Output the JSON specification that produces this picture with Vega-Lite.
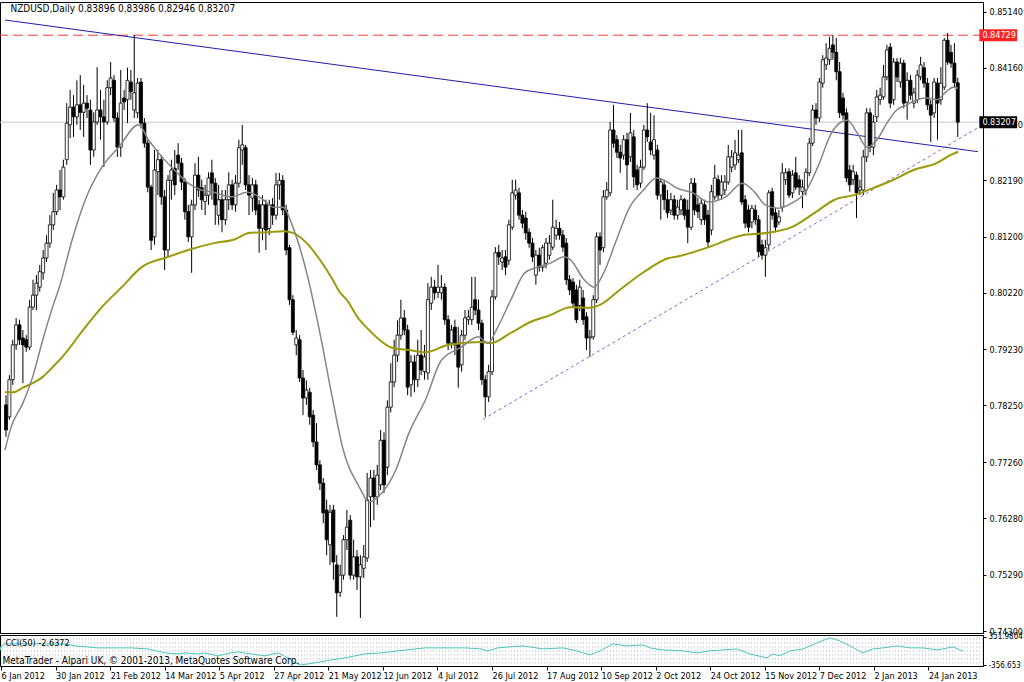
{
"$schema": "https://vega.github.io/schema/vega-lite/v6.json",
"background": "#ffffff",
"padding": {"left": -3, "top": 1, "right": 0, "bottom": 0},
"spacing": 2,
"bounds": "flush",
"config": {
 "view": {"stroke": "#000000", "strokeWidth": 1},
 "axis": {"grid": false, "labelFont": "Liberation Sans Narrow, DejaVu Sans Condensed, Liberation Sans, sans-serif", "labelFontSize": 9, "labelColor": "#000000", "domainColor": "#000000", "tickColor": "#000000"},
 "text": {"font": "Liberation Sans Narrow, DejaVu Sans Condensed, Liberation Sans, sans-serif"}
},
"datasets": {
"ohlc": [
{"i":0,"o":0.7826,"h":0.7843,"l":0.7770,"c":0.7782},
{"i":1,"o":0.7805,"h":0.7878,"l":0.7800,"c":0.7870},
{"i":2,"o":0.7870,"h":0.7940,"l":0.7861,"c":0.7931},
{"i":3,"o":0.7931,"h":0.7978,"l":0.7922,"c":0.7966},
{"i":4,"o":0.7966,"h":0.7975,"l":0.7931,"c":0.7940},
{"i":5,"o":0.7943,"h":0.7957,"l":0.7864,"c":0.7931},
{"i":6,"o":0.7940,"h":0.7948,"l":0.7919,"c":0.7927},
{"i":7,"o":0.7927,"h":0.8010,"l":0.7922,"c":0.7997},
{"i":8,"o":0.7997,"h":0.8045,"l":0.7992,"c":0.8018},
{"i":9,"o":0.8018,"h":0.8053,"l":0.7992,"c":0.8039},
{"i":10,"o":0.8032,"h":0.8071,"l":0.8024,"c":0.8059},
{"i":11,"o":0.8057,"h":0.8097,"l":0.8045,"c":0.8083},
{"i":12,"o":0.8083,"h":0.8123,"l":0.8076,"c":0.8109},
{"i":13,"o":0.8109,"h":0.8158,"l":0.8101,"c":0.8141},
{"i":14,"o":0.8141,"h":0.8197,"l":0.8132,"c":0.8164},
{"i":15,"o":0.8164,"h":0.8211,"l":0.8158,"c":0.8202},
{"i":16,"o":0.8202,"h":0.8237,"l":0.8167,"c":0.8190},
{"i":17,"o":0.8190,"h":0.8255,"l":0.8185,"c":0.8242},
{"i":18,"o":0.8255,"h":0.8354,"l":0.8246,"c":0.8319},
{"i":19,"o":0.8316,"h":0.8377,"l":0.8293,"c":0.8347},
{"i":20,"o":0.8347,"h":0.8368,"l":0.8295,"c":0.8330},
{"i":21,"o":0.8330,"h":0.8394,"l":0.8316,"c":0.8351},
{"i":22,"o":0.8351,"h":0.8403,"l":0.8307,"c":0.8338},
{"i":23,"o":0.8338,"h":0.8386,"l":0.8295,"c":0.8354},
{"i":24,"o":0.8354,"h":0.8368,"l":0.8328,"c":0.8345},
{"i":25,"o":0.8342,"h":0.8360,"l":0.8246,"c":0.8272},
{"i":26,"o":0.8272,"h":0.8338,"l":0.8260,"c":0.8321},
{"i":27,"o":0.8321,"h":0.8417,"l":0.8316,"c":0.8342},
{"i":28,"o":0.8342,"h":0.8377,"l":0.8290,"c":0.8330},
{"i":29,"o":0.8330,"h":0.8360,"l":0.8242,"c":0.8321},
{"i":30,"o":0.8321,"h":0.8394,"l":0.8316,"c":0.8381},
{"i":31,"o":0.8381,"h":0.8426,"l":0.8368,"c":0.8398},
{"i":32,"o":0.8394,"h":0.8403,"l":0.8321,"c":0.8328},
{"i":33,"o":0.8328,"h":0.8338,"l":0.8260,"c":0.8277},
{"i":34,"o":0.8277,"h":0.8412,"l":0.8260,"c":0.8354},
{"i":35,"o":0.8363,"h":0.8377,"l":0.8342,"c":0.8356},
{"i":36,"o":0.8360,"h":0.8416,"l":0.8319,"c":0.8394},
{"i":37,"o":0.8391,"h":0.8412,"l":0.8360,"c":0.8374},
{"i":38,"o":0.8342,"h":0.8473,"l":0.8328,"c":0.8372},
{"i":39,"o":0.8337,"h":0.8398,"l":0.8328,"c":0.8389},
{"i":40,"o":0.8391,"h":0.8398,"l":0.8310,"c":0.8319},
{"i":41,"o":0.8319,"h":0.8328,"l":0.8276,"c":0.8284},
{"i":42,"o":0.8284,"h":0.8290,"l":0.8198,"c":0.8207},
{"i":43,"o":0.8207,"h":0.8211,"l":0.8097,"c":0.8114},
{"i":44,"o":0.8120,"h":0.8272,"l":0.8106,"c":0.8237},
{"i":45,"o":0.8234,"h":0.8272,"l":0.8193,"c":0.8255},
{"i":46,"o":0.8255,"h":0.8263,"l":0.8176,"c":0.8190},
{"i":47,"o":0.8190,"h":0.8202,"l":0.8062,"c":0.8097},
{"i":48,"o":0.8097,"h":0.8228,"l":0.8083,"c":0.8219},
{"i":49,"o":0.8219,"h":0.8255,"l":0.8185,"c":0.8237},
{"i":50,"o":0.8240,"h":0.8272,"l":0.8193,"c":0.8211},
{"i":51,"o":0.8263,"h":0.8284,"l":0.8237,"c":0.8249},
{"i":52,"o":0.8249,"h":0.8258,"l":0.8202,"c":0.8216},
{"i":53,"o":0.8216,"h":0.8223,"l":0.8150,"c":0.8164},
{"i":54,"o":0.8164,"h":0.8176,"l":0.8111,"c":0.8120},
{"i":55,"o":0.8120,"h":0.8185,"l":0.8057,"c":0.8176},
{"i":56,"o":0.8176,"h":0.8249,"l":0.8167,"c":0.8228},
{"i":57,"o":0.8228,"h":0.8260,"l":0.8190,"c":0.8202},
{"i":58,"o":0.8206,"h":0.8220,"l":0.8167,"c":0.8185},
{"i":59,"o":0.8182,"h":0.8211,"l":0.8158,"c":0.8193},
{"i":60,"o":0.8193,"h":0.8233,"l":0.8176,"c":0.8223},
{"i":61,"o":0.8232,"h":0.8255,"l":0.8185,"c":0.8214},
{"i":62,"o":0.8214,"h":0.8223,"l":0.8141,"c":0.8176},
{"i":63,"o":0.8158,"h":0.8211,"l":0.8141,"c":0.8185},
{"i":64,"o":0.8185,"h":0.8202,"l":0.8128,"c":0.8150},
{"i":65,"o":0.8150,"h":0.8202,"l":0.8141,"c":0.8185},
{"i":66,"o":0.8185,"h":0.8233,"l":0.8167,"c":0.8211},
{"i":67,"o":0.8211,"h":0.8220,"l":0.8167,"c":0.8176},
{"i":68,"o":0.8176,"h":0.8228,"l":0.8164,"c":0.8214},
{"i":69,"o":0.8214,"h":0.8290,"l":0.8206,"c":0.8276},
{"i":70,"o":0.8272,"h":0.8316,"l":0.8246,"c":0.8281},
{"i":71,"o":0.8276,"h":0.8281,"l":0.8202,"c":0.8211},
{"i":72,"o":0.8211,"h":0.8228,"l":0.8158,"c":0.8193},
{"i":73,"o":0.8188,"h":0.8223,"l":0.8164,"c":0.8211},
{"i":74,"o":0.8211,"h":0.8220,"l":0.8158,"c":0.8167},
{"i":75,"o":0.8176,"h":0.8185,"l":0.8092,"c":0.8135},
{"i":76,"o":0.8135,"h":0.8193,"l":0.8114,"c":0.8176},
{"i":77,"o":0.8176,"h":0.8185,"l":0.8097,"c":0.8132},
{"i":78,"o":0.8135,"h":0.8185,"l":0.8123,"c":0.8176},
{"i":79,"o":0.8176,"h":0.8188,"l":0.8141,"c":0.8158},
{"i":80,"o":0.8158,"h":0.8232,"l":0.8150,"c":0.8211},
{"i":81,"o":0.8211,"h":0.8232,"l":0.8185,"c":0.8219},
{"i":82,"o":0.8219,"h":0.8228,"l":0.8158,"c":0.8167},
{"i":83,"o":0.8167,"h":0.8176,"l":0.8088,"c":0.8097},
{"i":84,"o":0.8101,"h":0.8106,"l":0.8001,"c":0.8010},
{"i":85,"o":0.8010,"h":0.8018,"l":0.7948,"c":0.7953},
{"i":86,"o":0.7931,"h":0.7957,"l":0.7913,"c":0.7943},
{"i":87,"o":0.7940,"h":0.7948,"l":0.7866,"c":0.7873},
{"i":88,"o":0.7873,"h":0.7887,"l":0.7808,"c":0.7838},
{"i":89,"o":0.7838,"h":0.7869,"l":0.7826,"c":0.7852},
{"i":90,"o":0.7848,"h":0.7856,"l":0.7791,"c":0.7805},
{"i":91,"o":0.7808,"h":0.7817,"l":0.7752,"c":0.7761},
{"i":92,"o":0.7761,"h":0.7794,"l":0.7712,"c":0.7721},
{"i":93,"o":0.7721,"h":0.7729,"l":0.7677,"c":0.7689},
{"i":94,"o":0.7689,"h":0.7698,"l":0.7619,"c":0.7637},
{"i":95,"o":0.7642,"h":0.7660,"l":0.7563,"c":0.7590},
{"i":96,"o":0.7581,"h":0.7651,"l":0.7546,"c":0.7638},
{"i":97,"o":0.7642,"h":0.7651,"l":0.7520,"c":0.7551},
{"i":98,"o":0.7546,"h":0.7563,"l":0.7455,"c":0.7497},
{"i":99,"o":0.7498,"h":0.7546,"l":0.7490,"c":0.7528},
{"i":100,"o":0.7528,"h":0.7598,"l":0.7520,"c":0.7590},
{"i":101,"o":0.7590,"h":0.7642,"l":0.7572,"c":0.7612},
{"i":102,"o":0.7624,"h":0.7633,"l":0.7520,"c":0.7528},
{"i":103,"o":0.7528,"h":0.7590,"l":0.7520,"c":0.7560},
{"i":104,"o":0.7560,"h":0.7572,"l":0.7502,"c":0.7525},
{"i":105,"o":0.7525,"h":0.7563,"l":0.7453,"c":0.7546},
{"i":106,"o":0.7540,"h":0.7581,"l":0.7523,"c":0.7560},
{"i":107,"o":0.7558,"h":0.7707,"l":0.7551,"c":0.7660},
{"i":108,"o":0.7665,"h":0.7712,"l":0.7612,"c":0.7698},
{"i":109,"o":0.7698,"h":0.7712,"l":0.7624,"c":0.7665},
{"i":110,"o":0.7665,"h":0.7721,"l":0.7651,"c":0.7703},
{"i":111,"o":0.7686,"h":0.7782,"l":0.7677,"c":0.7764},
{"i":112,"o":0.7764,"h":0.7778,"l":0.7672,"c":0.7686},
{"i":113,"o":0.7717,"h":0.7834,"l":0.7703,"c":0.7822},
{"i":114,"o":0.7822,"h":0.7899,"l":0.7813,"c":0.7866},
{"i":115,"o":0.7866,"h":0.7940,"l":0.7857,"c":0.7913},
{"i":116,"o":0.7913,"h":0.7974,"l":0.7901,"c":0.7948},
{"i":117,"o":0.7948,"h":0.8010,"l":0.7940,"c":0.7978},
{"i":118,"o":0.7978,"h":0.7992,"l":0.7948,"c":0.7957},
{"i":119,"o":0.7957,"h":0.7966,"l":0.7843,"c":0.7857},
{"i":120,"o":0.7861,"h":0.7913,"l":0.7840,"c":0.7901},
{"i":121,"o":0.7901,"h":0.7913,"l":0.7848,"c":0.7870},
{"i":122,"o":0.7870,"h":0.7940,"l":0.7857,"c":0.7913},
{"i":123,"o":0.7913,"h":0.7957,"l":0.7878,"c":0.7887},
{"i":124,"o":0.7884,"h":0.7931,"l":0.7870,"c":0.7910},
{"i":125,"o":0.7882,"h":0.8039,"l":0.7870,"c":0.8010},
{"i":126,"o":0.8004,"h":0.8050,"l":0.7992,"c":0.8032},
{"i":127,"o":0.8032,"h":0.8045,"l":0.8010,"c":0.8022},
{"i":128,"o":0.8023,"h":0.8071,"l":0.8013,"c":0.8032},
{"i":129,"o":0.8022,"h":0.8053,"l":0.8010,"c":0.8032},
{"i":130,"o":0.8032,"h":0.8039,"l":0.7966,"c":0.7975},
{"i":131,"o":0.7975,"h":0.7983,"l":0.7922,"c":0.7934},
{"i":132,"o":0.7934,"h":0.7966,"l":0.7925,"c":0.7957},
{"i":133,"o":0.7962,"h":0.7975,"l":0.7913,"c":0.7931},
{"i":134,"o":0.7931,"h":0.7962,"l":0.7856,"c":0.7892},
{"i":135,"o":0.7896,"h":0.7957,"l":0.7884,"c":0.7948},
{"i":136,"o":0.7948,"h":0.7992,"l":0.7940,"c":0.7978},
{"i":137,"o":0.7975,"h":0.7992,"l":0.7966,"c":0.7980},
{"i":138,"o":0.7975,"h":0.8050,"l":0.7966,"c":0.7997},
{"i":139,"o":0.8010,"h":0.8050,"l":0.7983,"c":0.7992},
{"i":140,"o":0.7992,"h":0.8010,"l":0.7957,"c":0.7969},
{"i":141,"o":0.7969,"h":0.7975,"l":0.7861,"c":0.7870},
{"i":142,"o":0.7870,"h":0.7878,"l":0.7805,"c":0.7840},
{"i":143,"o":0.7840,"h":0.7896,"l":0.7831,"c":0.7884},
{"i":144,"o":0.7884,"h":0.8027,"l":0.7878,"c":0.8015},
{"i":145,"o":0.8015,"h":0.8102,"l":0.8010,"c":0.8092},
{"i":146,"o":0.8093,"h":0.8106,"l":0.8071,"c":0.8085},
{"i":147,"o":0.8076,"h":0.8097,"l":0.8062,"c":0.8083},
{"i":148,"o":0.8085,"h":0.8097,"l":0.8053,"c":0.8067},
{"i":149,"o":0.8079,"h":0.8150,"l":0.8071,"c":0.8141},
{"i":150,"o":0.8137,"h":0.8220,"l":0.8132,"c":0.8197},
{"i":151,"o":0.8193,"h":0.8220,"l":0.8185,"c":0.8202},
{"i":152,"o":0.8197,"h":0.8206,"l":0.8150,"c":0.8158},
{"i":153,"o":0.8158,"h":0.8167,"l":0.8135,"c":0.8144},
{"i":154,"o":0.8153,"h":0.8164,"l":0.8115,"c":0.8127},
{"i":155,"o":0.8128,"h":0.8135,"l":0.8101,"c":0.8109},
{"i":156,"o":0.8109,"h":0.8118,"l":0.8076,"c":0.8085},
{"i":157,"o":0.8053,"h":0.8097,"l":0.8036,"c":0.8088},
{"i":158,"o":0.8088,"h":0.8101,"l":0.8059,"c":0.8067},
{"i":159,"o":0.8067,"h":0.8106,"l":0.8059,"c":0.8101},
{"i":160,"o":0.8074,"h":0.8118,"l":0.8065,"c":0.8109},
{"i":161,"o":0.8088,"h":0.8123,"l":0.8080,"c":0.8109},
{"i":162,"o":0.8102,"h":0.8185,"l":0.8097,"c":0.8137},
{"i":163,"o":0.8123,"h":0.8150,"l":0.8115,"c":0.8135},
{"i":164,"o":0.8135,"h":0.8146,"l":0.8115,"c":0.8123},
{"i":165,"o":0.8123,"h":0.8132,"l":0.8094,"c":0.8102},
{"i":166,"o":0.8109,"h":0.8118,"l":0.8036,"c":0.8045},
{"i":167,"o":0.8045,"h":0.8053,"l":0.8018,"c":0.8027},
{"i":168,"o":0.8041,"h":0.8048,"l":0.7996,"c":0.8004},
{"i":169,"o":0.8027,"h":0.8036,"l":0.7969,"c":0.7975},
{"i":170,"o":0.8000,"h":0.8045,"l":0.7990,"c":0.8032},
{"i":171,"o":0.8013,"h":0.8027,"l":0.7966,"c":0.7975},
{"i":172,"o":0.7980,"h":0.7988,"l":0.7922,"c":0.7943},
{"i":173,"o":0.7943,"h":0.7957,"l":0.7910,"c":0.7945},
{"i":174,"o":0.7945,"h":0.8018,"l":0.7940,"c":0.8010},
{"i":175,"o":0.8010,"h":0.8128,"l":0.8004,"c":0.8120},
{"i":176,"o":0.8120,"h":0.8128,"l":0.8071,"c":0.8097},
{"i":177,"o":0.8101,"h":0.8202,"l":0.8093,"c":0.8190},
{"i":178,"o":0.8190,"h":0.8216,"l":0.8185,"c":0.8202},
{"i":179,"o":0.8197,"h":0.8321,"l":0.8191,"c":0.8307},
{"i":180,"o":0.8307,"h":0.8351,"l":0.8276,"c":0.8284},
{"i":181,"o":0.8290,"h":0.8298,"l":0.8258,"c":0.8268},
{"i":182,"o":0.8268,"h":0.8281,"l":0.8232,"c":0.8258},
{"i":183,"o":0.8263,"h":0.8298,"l":0.8255,"c":0.8290},
{"i":184,"o":0.8290,"h":0.8302,"l":0.8202,"c":0.8246},
{"i":185,"o":0.8260,"h":0.8337,"l":0.8251,"c":0.8302},
{"i":186,"o":0.8295,"h":0.8307,"l":0.8206,"c":0.8225},
{"i":187,"o":0.8237,"h":0.8246,"l":0.8202,"c":0.8211},
{"i":188,"o":0.8214,"h":0.8255,"l":0.8206,"c":0.8242},
{"i":189,"o":0.8242,"h":0.8316,"l":0.8237,"c":0.8307},
{"i":190,"o":0.8307,"h":0.8354,"l":0.8286,"c":0.8295},
{"i":191,"o":0.8286,"h":0.8337,"l":0.8263,"c":0.8272},
{"i":192,"o":0.8263,"h":0.8333,"l":0.8255,"c":0.8290},
{"i":193,"o":0.8272,"h":0.8281,"l":0.8185,"c":0.8193},
{"i":194,"o":0.8193,"h":0.8223,"l":0.8150,"c":0.8216},
{"i":195,"o":0.8211,"h":0.8220,"l":0.8167,"c":0.8185},
{"i":196,"o":0.8185,"h":0.8202,"l":0.8153,"c":0.8162},
{"i":197,"o":0.8167,"h":0.8197,"l":0.8158,"c":0.8185},
{"i":198,"o":0.8185,"h":0.8193,"l":0.8150,"c":0.8158},
{"i":199,"o":0.8158,"h":0.8185,"l":0.8150,"c":0.8172},
{"i":200,"o":0.8167,"h":0.8193,"l":0.8158,"c":0.8185},
{"i":201,"o":0.8185,"h":0.8188,"l":0.8150,"c":0.8158},
{"i":202,"o":0.8167,"h":0.8185,"l":0.8109,"c":0.8137},
{"i":203,"o":0.8137,"h":0.8223,"l":0.8132,"c":0.8214},
{"i":204,"o":0.8214,"h":0.8223,"l":0.8158,"c":0.8167},
{"i":205,"o":0.8176,"h":0.8188,"l":0.8153,"c":0.8164},
{"i":206,"o":0.8150,"h":0.8188,"l":0.8141,"c":0.8179},
{"i":207,"o":0.8176,"h":0.8185,"l":0.8141,"c":0.8150},
{"i":208,"o":0.8158,"h":0.8167,"l":0.8101,"c":0.8111},
{"i":209,"o":0.8132,"h":0.8211,"l":0.8123,"c":0.8199},
{"i":210,"o":0.8190,"h":0.8246,"l":0.8185,"c":0.8223},
{"i":211,"o":0.8220,"h":0.8228,"l":0.8185,"c":0.8193},
{"i":212,"o":0.8193,"h":0.8228,"l":0.8185,"c":0.8216},
{"i":213,"o":0.8202,"h":0.8228,"l":0.8193,"c":0.8216},
{"i":214,"o":0.8216,"h":0.8281,"l":0.8211,"c":0.8260},
{"i":215,"o":0.8242,"h":0.8272,"l":0.8233,"c":0.8260},
{"i":216,"o":0.8246,"h":0.8290,"l":0.8237,"c":0.8267},
{"i":217,"o":0.8255,"h":0.8307,"l":0.8249,"c":0.8263},
{"i":218,"o":0.8267,"h":0.8307,"l":0.8176,"c":0.8181},
{"i":219,"o":0.8185,"h":0.8193,"l":0.8135,"c":0.8144},
{"i":220,"o":0.8167,"h":0.8176,"l":0.8128,"c":0.8137},
{"i":221,"o":0.8146,"h":0.8176,"l":0.8135,"c":0.8170},
{"i":222,"o":0.8167,"h":0.8176,"l":0.8141,"c":0.8150},
{"i":223,"o":0.8150,"h":0.8158,"l":0.8085,"c":0.8094},
{"i":224,"o":0.8106,"h":0.8115,"l":0.8080,"c":0.8088},
{"i":225,"o":0.8088,"h":0.8115,"l":0.8050,"c":0.8101},
{"i":226,"o":0.8106,"h":0.8202,"l":0.8097,"c":0.8197},
{"i":227,"o":0.8199,"h":0.8206,"l":0.8150,"c":0.8158},
{"i":228,"o":0.8162,"h":0.8171,"l":0.8128,"c":0.8137},
{"i":229,"o":0.8146,"h":0.8167,"l":0.8141,"c":0.8155},
{"i":230,"o":0.8172,"h":0.8249,"l":0.8164,"c":0.8232},
{"i":231,"o":0.8220,"h":0.8240,"l":0.8211,"c":0.8232},
{"i":232,"o":0.8234,"h":0.8240,"l":0.8188,"c":0.8193},
{"i":233,"o":0.8197,"h":0.8237,"l":0.8188,"c":0.8228},
{"i":234,"o":0.8232,"h":0.8260,"l":0.8202,"c":0.8207},
{"i":235,"o":0.8220,"h":0.8228,"l":0.8193,"c":0.8207},
{"i":236,"o":0.8199,"h":0.8220,"l":0.8170,"c":0.8207},
{"i":237,"o":0.8202,"h":0.8240,"l":0.8193,"c":0.8233},
{"i":238,"o":0.8232,"h":0.8293,"l":0.8226,"c":0.8284},
{"i":239,"o":0.8284,"h":0.8351,"l":0.8279,"c":0.8342},
{"i":240,"o":0.8342,"h":0.8354,"l":0.8316,"c":0.8328},
{"i":241,"o":0.8328,"h":0.8398,"l":0.8321,"c":0.8391},
{"i":242,"o":0.8389,"h":0.8438,"l":0.8381,"c":0.8430},
{"i":243,"o":0.8421,"h":0.8459,"l":0.8412,"c":0.8433},
{"i":244,"o":0.8430,"h":0.8470,"l":0.8421,"c":0.8450},
{"i":245,"o":0.8456,"h":0.8473,"l":0.8430,"c":0.8443},
{"i":246,"o":0.8443,"h":0.8468,"l":0.8394,"c":0.8409},
{"i":247,"o":0.8409,"h":0.8426,"l":0.8328,"c":0.8337},
{"i":248,"o":0.8363,"h":0.8372,"l":0.8325,"c":0.8333},
{"i":249,"o":0.8337,"h":0.8345,"l":0.8216,"c":0.8223},
{"i":250,"o":0.8237,"h":0.8246,"l":0.8199,"c":0.8211},
{"i":251,"o":0.8220,"h":0.8246,"l":0.8211,"c":0.8234},
{"i":252,"o":0.8228,"h":0.8234,"l":0.8153,"c":0.8197},
{"i":253,"o":0.8202,"h":0.8220,"l":0.8193,"c":0.8207},
{"i":254,"o":0.8202,"h":0.8272,"l":0.8193,"c":0.8260},
{"i":255,"o":0.8260,"h":0.8345,"l":0.8251,"c":0.8337},
{"i":256,"o":0.8337,"h":0.8345,"l":0.8268,"c":0.8277},
{"i":257,"o":0.8277,"h":0.8333,"l":0.8263,"c":0.8321},
{"i":258,"o":0.8330,"h":0.8377,"l":0.8321,"c":0.8365},
{"i":259,"o":0.8360,"h":0.8381,"l":0.8351,"c":0.8368},
{"i":260,"o":0.8365,"h":0.8421,"l":0.8360,"c":0.8400},
{"i":261,"o":0.8400,"h":0.8456,"l":0.8394,"c":0.8447},
{"i":262,"o":0.8452,"h":0.8459,"l":0.8345,"c":0.8354},
{"i":263,"o":0.8360,"h":0.8433,"l":0.8351,"c":0.8426},
{"i":264,"o":0.8426,"h":0.8433,"l":0.8391,"c":0.8400},
{"i":265,"o":0.8391,"h":0.8433,"l":0.8381,"c":0.8424},
{"i":266,"o":0.8424,"h":0.8430,"l":0.8345,"c":0.8354},
{"i":267,"o":0.8356,"h":0.8408,"l":0.8325,"c":0.8394},
{"i":268,"o":0.8394,"h":0.8403,"l":0.8360,"c":0.8368},
{"i":269,"o":0.8354,"h":0.8381,"l":0.8345,"c":0.8372},
{"i":270,"o":0.8360,"h":0.8412,"l":0.8354,"c":0.8403},
{"i":271,"o":0.8400,"h":0.8435,"l":0.8394,"c":0.8421},
{"i":272,"o":0.8416,"h":0.8426,"l":0.8381,"c":0.8389},
{"i":273,"o":0.8389,"h":0.8398,"l":0.8342,"c":0.8351},
{"i":274,"o":0.8351,"h":0.8360,"l":0.8286,"c":0.8333},
{"i":275,"o":0.8337,"h":0.8398,"l":0.8328,"c":0.8391},
{"i":276,"o":0.8389,"h":0.8398,"l":0.8290,"c":0.8354},
{"i":277,"o":0.8360,"h":0.8417,"l":0.8351,"c":0.8389},
{"i":278,"o":0.8382,"h":0.8468,"l":0.8377,"c":0.8464},
{"i":279,"o":0.8464,"h":0.8477,"l":0.8421,"c":0.8426},
{"i":280,"o":0.8443,"h":0.8456,"l":0.8416,"c":0.8424},
{"i":281,"o":0.8424,"h":0.8459,"l":0.8381,"c":0.8390},
{"i":282,"o":0.83896,"h":0.83986,"l":0.82946,"c":0.83207}
],
"maFast": [
{"i":-0.3,"p":0.7747},{"i":1.5,"p":0.7787},{"i":5,"p":0.7829},{"i":7.9,"p":0.7875},{"i":10.9,"p":0.7940},{"i":13.8,"p":0.7997},{"i":15.8,"p":0.8032},{"i":19.6,"p":0.8115},{"i":23.5,"p":0.8185},{"i":28.4,"p":0.8242},{"i":33.4,"p":0.8277},{"i":39.3,"p":0.8316},{"i":42.2,"p":0.8290},{"i":45.2,"p":0.8267},{"i":49.9,"p":0.8237},{"i":54,"p":0.8214},{"i":57.8,"p":0.8202},{"i":61.6,"p":0.8198},{"i":66.6,"p":0.8190},{"i":71.6,"p":0.8198},{"i":76.2,"p":0.8185},{"i":79.2,"p":0.8172},{"i":82.1,"p":0.8172},{"i":85,"p":0.8137},{"i":89.1,"p":0.8057},{"i":93,"p":0.7952},{"i":96.8,"p":0.7835},{"i":99.7,"p":0.7752},{"i":104.7,"p":0.7682},{"i":107.6,"p":0.7656},{"i":111.4,"p":0.7672},{"i":115.5,"p":0.7712},{"i":119.4,"p":0.7777},{"i":124.3,"p":0.7835},{"i":129,"p":0.7904},{"i":134.9,"p":0.7927},{"i":139.9,"p":0.7945},{"i":142.8,"p":0.7934},{"i":145.7,"p":0.7962},{"i":149.6,"p":0.8010},{"i":153.7,"p":0.8057},{"i":157.5,"p":0.8067},{"i":161.3,"p":0.8074},{"i":165.4,"p":0.8085},{"i":167.2,"p":0.8080},{"i":171.3,"p":0.8045},{"i":174.2,"p":0.8032},{"i":177.1,"p":0.8057},{"i":180.9,"p":0.8115},{"i":184.8,"p":0.8172},{"i":188.9,"p":0.8202},{"i":192.7,"p":0.8223},{"i":196.5,"p":0.8214},{"i":198.5,"p":0.8206},{"i":203.5,"p":0.8197},{"i":208.2,"p":0.8181},{"i":213.2,"p":0.8190},{"i":218.2,"p":0.8214},{"i":222,"p":0.8197},{"i":224.9,"p":0.8176},{"i":228.7,"p":0.8170},{"i":232.8,"p":0.8179},{"i":236.7,"p":0.8197},{"i":240.5,"p":0.8242},{"i":244.6,"p":0.8302},{"i":247.5,"p":0.8321},{"i":249.3,"p":0.8324},{"i":252.2,"p":0.8302},{"i":255.1,"p":0.8277},{"i":258.1,"p":0.8290},{"i":261,"p":0.8319},{"i":263.9,"p":0.8342},{"i":266.9,"p":0.8351},{"i":269.8,"p":0.8360},{"i":272.7,"p":0.8363},{"i":275.7,"p":0.8360},{"i":278.6,"p":0.8374},{"i":280.6,"p":0.8382},{"i":282.1,"p":0.8380}
],
"maSlow": [
{"i":-0.3,"p":0.7848},{"i":2.1,"p":0.7848},{"i":5,"p":0.7856},{"i":7.9,"p":0.7864},{"i":10.9,"p":0.7875},{"i":13.8,"p":0.7892},{"i":16.7,"p":0.7910},{"i":23.5,"p":0.7962},{"i":28.4,"p":0.7997},{"i":34.3,"p":0.8032},{"i":40.2,"p":0.8067},{"i":48.1,"p":0.8085},{"i":54,"p":0.8097},{"i":61.6,"p":0.8109},{"i":67.4,"p":0.8115},{"i":72.4,"p":0.8127},{"i":77.4,"p":0.8128},{"i":82.1,"p":0.8130},{"i":85,"p":0.8127},{"i":89.1,"p":0.8109},{"i":93,"p":0.8080},{"i":96.8,"p":0.8045},{"i":98.8,"p":0.8024},{"i":100.9,"p":0.8010},{"i":104.7,"p":0.7975},{"i":107.6,"p":0.7957},{"i":110.6,"p":0.7940},{"i":114.4,"p":0.7926},{"i":119.4,"p":0.7922},{"i":124.3,"p":0.7918},{"i":131.1,"p":0.7931},{"i":140.8,"p":0.7936},{"i":143.7,"p":0.7934},{"i":149.6,"p":0.7952},{"i":155.4,"p":0.7971},{"i":161.3,"p":0.7983},{"i":167.2,"p":0.7997},{"i":173,"p":0.7996},{"i":176,"p":0.8001},{"i":181.8,"p":0.8027},{"i":188.9,"p":0.8058},{"i":196.5,"p":0.8083},{"i":198.5,"p":0.8085},{"i":208.2,"p":0.8102},{"i":218.2,"p":0.8123},{"i":225.8,"p":0.8127},{"i":232.8,"p":0.8137},{"i":239.6,"p":0.8162},{"i":245.5,"p":0.8185},{"i":251.3,"p":0.8193},{"i":257.2,"p":0.8206},{"i":263,"p":0.8220},{"i":268.9,"p":0.8237},{"i":275.7,"p":0.8249},{"i":279.8,"p":0.8263},{"i":282.1,"p":0.8269}
],
"cci": [
{"i":-0.3,"v":0},{"i":0,"v":126},{"i":1.2,"v":176},{"i":5,"v":176},{"i":18.8,"v":176},{"i":21.7,"v":126},{"i":28.4,"v":76},{"i":38.1,"v":76},{"i":43.1,"v":50},{"i":48.1,"v":-50},{"i":51.9,"v":-76},{"i":54,"v":-50},{"i":57.8,"v":-76},{"i":59.8,"v":-50},{"i":63.6,"v":-126},{"i":67.4,"v":-50},{"i":69.5,"v":-25},{"i":73.3,"v":-76},{"i":77.4,"v":-126},{"i":81.2,"v":-50},{"i":84.2,"v":-176},{"i":86.2,"v":-302},{"i":88,"v":-353},{"i":92.1,"v":-302},{"i":96.8,"v":-227},{"i":100.9,"v":-176},{"i":106.7,"v":-76},{"i":111.4,"v":-50},{"i":116.4,"v":0},{"i":124.3,"v":76},{"i":128.2,"v":76},{"i":136.1,"v":76},{"i":140.8,"v":50},{"i":142.8,"v":0},{"i":145.7,"v":76},{"i":149.3,"v":101},{"i":153.1,"v":126},{"i":158.9,"v":50},{"i":164.8,"v":76},{"i":168.9,"v":0},{"i":172.7,"v":-101},{"i":175.7,"v":0},{"i":179.5,"v":176},{"i":183.6,"v":126},{"i":188.3,"v":151},{"i":190.3,"v":76},{"i":194.1,"v":25},{"i":200,"v":0},{"i":204.1,"v":-50},{"i":207.9,"v":0},{"i":215.8,"v":50},{"i":219.6,"v":-76},{"i":224.6,"v":-176},{"i":226.4,"v":-76},{"i":228.4,"v":-126},{"i":231.4,"v":0},{"i":235.2,"v":50},{"i":239.3,"v":202},{"i":243.1,"v":328},{"i":246,"v":252},{"i":249,"v":126},{"i":252.8,"v":-50},{"i":255.7,"v":50},{"i":258.7,"v":76},{"i":262.8,"v":126},{"i":266.6,"v":76},{"i":270.4,"v":76},{"i":274.5,"v":25},{"i":276.2,"v":50},{"i":279.2,"v":101},{"i":281.2,"v":25},{"i":282.1,"v":-3}
]
},
"vconcat": [
{
 "width": 983, "height": 631,
 "layer": [
  {
   "data": {"values": [{"p": 0.83207}]},
   "mark": {"type": "rule", "color": "#c4c4c4", "strokeWidth": 1},
   "encoding": {
    "y": {"field": "p", "type": "quantitative", "title": null,
     "scale": {"domain": [0.742675, 0.8531], "nice": false, "zero": false},
     "axis": {"orient": "right", "values": [0.7430,0.7480,0.7529,0.7578,0.7628,0.7677,0.7726,0.7775,0.7825,0.7874,0.7923,0.7972,0.8022,0.8071,0.8120,0.8169,0.8219,0.8268,0.8317,0.8366,0.8416,0.8465,0.8514], "format": ".5f", "tickSize": 3, "labelPadding": 3, "labelFlush": false, "labelOverlap": false, "labelBound": false, "title": null}}
   }
  },
  {
   "data": {"values": [{"p": 0.84729}]},
   "mark": {"type": "rule", "color": "#ff3838", "strokeWidth": 1, "strokeDash": [10, 5]},
   "encoding": {"y": {"field": "p", "type": "quantitative", "title": null}}
  },
  {
   "data": {"values": [{"i": -0.3, "p": 0.84995}, {"i": 288, "p": 0.8269}]},
   "mark": {"type": "line", "color": "#1e1ea6", "strokeWidth": 1},
   "encoding": {
    "x": {"field": "i", "type": "quantitative", "title": null, "scale": {"domain": [-0.3, 288], "nice": false, "zero": false}, "axis": null},
    "y": {"field": "p", "type": "quantitative", "title": null}
   }
  },
  {
   "data": {"values": [{"i": 141.4, "p": 0.7801}, {"i": 288, "p": 0.8311}]},
   "mark": {"type": "line", "color": "#8a5fd6", "strokeWidth": 1, "strokeDash": [3, 3]},
   "encoding": {
    "x": {"field": "i", "type": "quantitative", "title": null, "axis": null},
    "y": {"field": "p", "type": "quantitative", "title": null}
   }
  },
  {
   "data": {"name": "ohlc"},
   "mark": {"type": "rule", "color": "#000000", "strokeWidth": 1},
   "encoding": {
    "x": {"field": "i", "type": "quantitative", "title": null, "axis": null},
    "y": {"field": "l", "type": "quantitative", "title": null},
    "y2": {"field": "h"}
   }
  },
  {
   "data": {"name": "ohlc"},
   "mark": {"type": "bar", "size": 3, "stroke": "#000000", "strokeWidth": 0.8},
   "encoding": {
    "x": {"field": "i", "type": "quantitative", "title": null, "axis": null},
    "y": {"field": "o", "type": "quantitative", "title": null},
    "y2": {"field": "c"},
    "fill": {"condition": {"test": "datum.c < datum.o", "value": "#000000"}, "value": "#ffffff"}
   }
  },
  {
   "data": {"name": "maSlow"},
   "mark": {"type": "line", "color": "#9a9a0a", "strokeWidth": 2, "interpolate": "monotone"},
   "encoding": {
    "x": {"field": "i", "type": "quantitative", "title": null, "axis": null},
    "y": {"field": "p", "type": "quantitative", "title": null}
   }
  },
  {
   "data": {"name": "maFast"},
   "mark": {"type": "line", "color": "#858585", "strokeWidth": 1.5, "interpolate": "monotone"},
   "encoding": {
    "x": {"field": "i", "type": "quantitative", "title": null, "axis": null},
    "y": {"field": "p", "type": "quantitative", "title": null}
   }
  },
  {
   "data": {"values": [{"p": 0.84729, "t": "0.84729"}, {"p": 0.83207, "t": "0.83207"}]},
   "mark": {"type": "rule", "strokeWidth": 12, "strokeCap": "butt"},
   "encoding": {
    "x": {"datum": 288.4, "type": "quantitative", "axis": null},
    "x2": {"datum": 299.6},
    "y": {"field": "p", "type": "quantitative", "title": null},
    "color": {"condition": {"test": "datum.p > 0.84", "value": "#ff2424"}, "value": "#000000"}
   }
  },
  {
   "data": {"values": [{"p": 0.84729, "t": "0.84729"}, {"p": 0.83207, "t": "0.83207"}]},
   "mark": {"type": "text", "align": "left", "baseline": "middle", "color": "#ffffff", "fontSize": 9},
   "encoding": {
    "x": {"datum": 289.3, "type": "quantitative", "axis": null},
    "y": {"field": "p", "type": "quantitative", "title": null},
    "text": {"field": "t"}
   }
  },
  {
   "data": {"values": [{"t": "NZDUSD,Daily  0.83896 0.83986 0.82946 0.83207"}]},
   "mark": {"type": "text", "align": "left", "baseline": "middle", "color": "#000000", "fontSize": 10},
   "encoding": {
    "x": {"datum": 1.3, "type": "quantitative", "axis": null},
    "y": {"datum": 0.85188, "type": "quantitative"},
    "text": {"field": "t"}
   }
  }
 ]
},
{
 "width": 983, "height": 31,
 "layer": [
  {
   "data": {"values": [{"v": -300}, {"v": -200}, {"v": -100}, {"v": 0}, {"v": 100}, {"v": 200}, {"v": 300}]},
   "mark": {"type": "rule", "color": "#b8b8b8", "strokeWidth": 1, "strokeDash": [1, 2]},
   "encoding": {
    "y": {"field": "v", "type": "quantitative", "title": null,
     "scale": {"domain": [-380, 400], "nice": false, "zero": false},
     "axis": {"orient": "right", "values": [351.9804, 0, -356.653], "labelExpr": "datum.value == 0 ? '0.00' : (datum.value > 0 ? '351.9804' : '-356.653')", "tickSize": 3, "labelPadding": 2, "labelFontSize": 8, "labelFlush": false, "labelOverlap": false, "labelBound": false, "title": null}}
   }
  },
  {
   "data": {"name": "cci"},
   "mark": {"type": "line", "color": "#4ac4bc", "strokeWidth": 1},
   "encoding": {
    "x": {"field": "i", "type": "quantitative", "title": null,
     "scale": {"domain": [-0.3, 288], "nice": false, "zero": false},
     "axis": {"values": [0,16,32,48,64,80,96,112,128,144,160,176,192,208,224,240,256,272], "labelExpr": "['6 Jan 2012','30 Jan 2012','21 Feb 2012','14 Mar 2012','5 Apr 2012','27 Apr 2012','21 May 2012','12 Jun 2012','4 Jul 2012','26 Jul 2012','17 Aug 2012','10 Sep 2012','2 Oct 2012','24 Oct 2012','15 Nov 2012','7 Dec 2012','2 Jan 2013','24 Jan 2013'][round(datum.value/16)]", "labelAlign": "left", "labelFlush": false, "labelOverlap": false, "labelBound": false, "tickSize": 4, "labelPadding": 1, "labelFontSize": 9, "domain": false, "title": null}},
    "y": {"field": "v", "type": "quantitative", "title": null}
   }
  },
  {
   "data": {"values": [{"t": "CCI(50) -2.6372"}]},
   "mark": {"type": "text", "align": "left", "baseline": "middle", "color": "#000000", "fontSize": 9},
   "encoding": {
    "x": {"datum": 1.3, "type": "quantitative"},
    "y": {"datum": 190, "type": "quantitative"},
    "text": {"field": "t"}
   }
  },
  {
   "data": {"values": [{"t": "MetaTrader - Alpari UK, © 2001-2013, MetaQuotes Software Corp."}]},
   "mark": {"type": "text", "align": "left", "baseline": "middle", "color": "#000000", "fontSize": 10},
   "encoding": {
    "x": {"datum": 0.4, "type": "quantitative"},
    "y": {"datum": -250, "type": "quantitative"},
    "text": {"field": "t"}
   }
  }
 ]
}
]
}
